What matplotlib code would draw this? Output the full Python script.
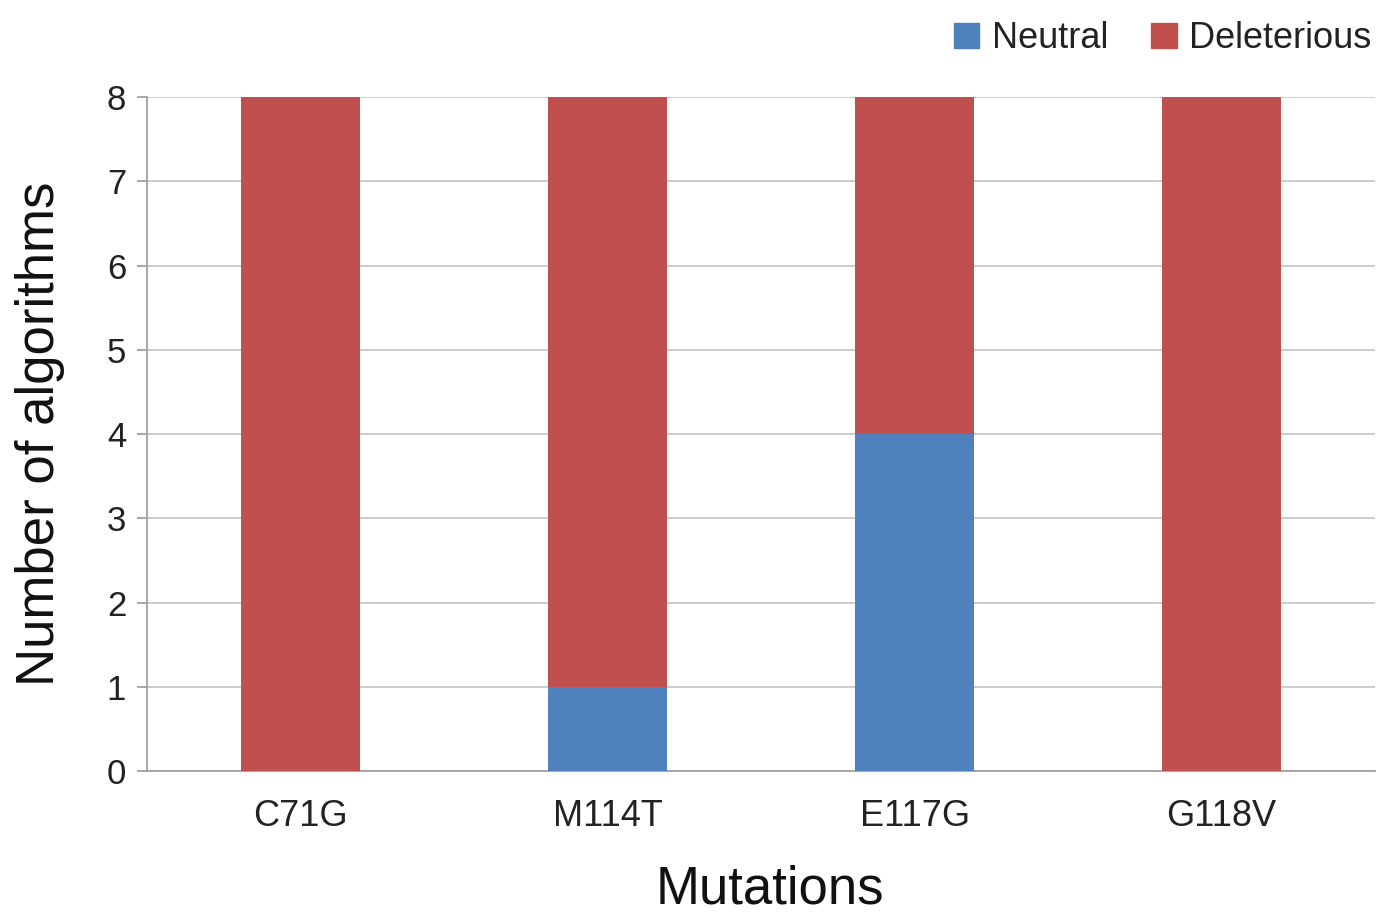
import matplotlib.pyplot as plt
from matplotlib.patches import Patch

mutations = ['C71G', 'M114T', 'E117G', 'G118V']
neutral = [0, 1, 4, 0]
deleterious = [8, 7, 4, 8]

blue = '#4F81BD'
red = '#C0504D'
grid = '#C8C8C8'

plt.rcParams['font.family'] = ['Liberation Sans', 'DejaVu Sans']

fig = plt.figure(figsize=(13.9, 9.18), dpi=100)
ax = fig.add_axes([0.1058, 0.1601, 0.8835, 0.7342])

x = range(len(mutations))
ax.bar(x, neutral, width=0.39, color=blue, zorder=3)
ax.bar(x, deleterious, width=0.39, bottom=neutral, color=red, zorder=3)

ax.set_xlim(-0.5, len(mutations) - 0.5)
ax.set_ylim(0, 8)
ax.set_yticks(range(0, 9))
ax.set_xticks(list(x))
ax.set_xticklabels(mutations)
ax.yaxis.grid(True, color=grid, linewidth=1.3, zorder=0)

for s in ['top', 'right']:
    ax.spines[s].set_visible(False)
for s in ['left', 'bottom']:
    ax.spines[s].set_color('#A0A0A0')
    ax.spines[s].set_linewidth(1.3)

ax.tick_params(axis='y', length=7, color='#A0A0A0', width=1.3, labelsize=25, pad=8, labelcolor='#222222')
ax.tick_params(axis='x', length=0, labelsize=26, pad=20, labelcolor='#222222')

ax.set_xlabel('Mutations', fontsize=38, labelpad=22, color='#111111')
ax.xaxis.label.set_x(0.507)
ax.set_ylabel('Number of algorithms', fontsize=38, labelpad=30, color='#111111')

handles = [Patch(color=blue, label='Neutral'), Patch(color=red, label='Deleterious')]
fig.legend(handles=handles, loc='upper right', bbox_to_anchor=(1.01, 1.012), ncol=2,
           frameon=False, fontsize=26, handlelength=0.7, handleheight=0.7,
           handletextpad=0.35, columnspacing=1.2, labelcolor='#222222')

fig.savefig('out.png', dpi=100)
